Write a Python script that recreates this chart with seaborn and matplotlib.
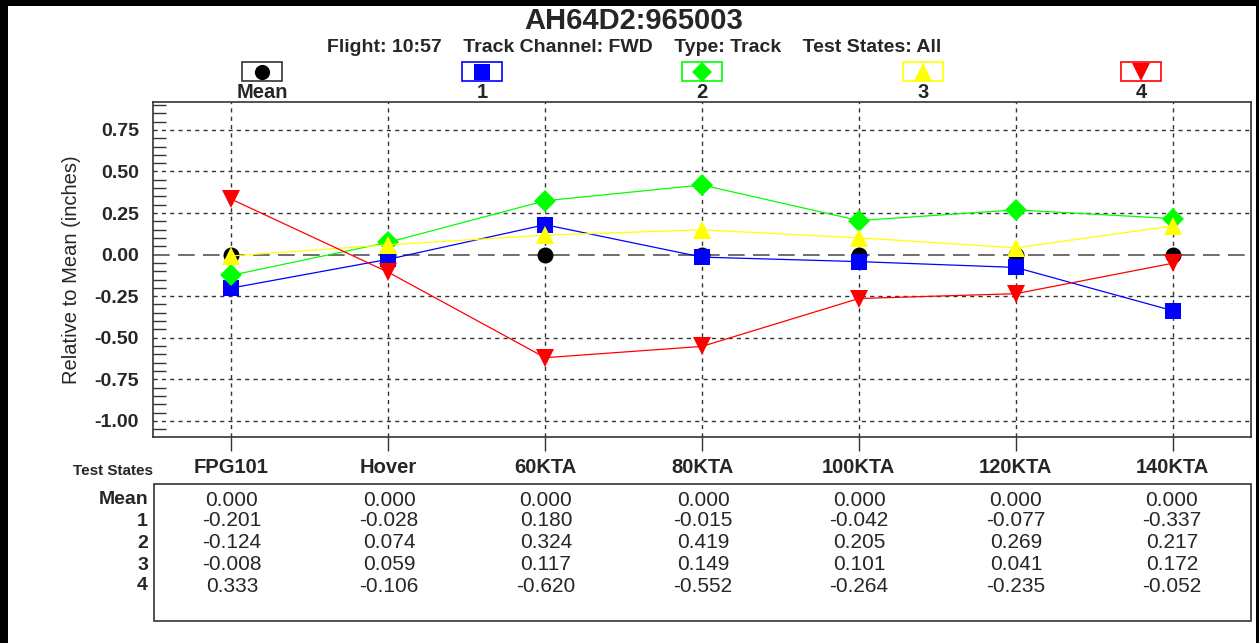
import numpy as np
import matplotlib
matplotlib.use('Agg')
import matplotlib.pyplot as plt
from matplotlib.patches import Rectangle
from matplotlib.lines import Line2D
from matplotlib.ticker import MultipleLocator, FormatStrFormatter
import seaborn as sns

# data
categories = ['FPG101', 'Hover', '60KTA', '80KTA', '100KTA', '120KTA', '140KTA']
series_names = ['Mean', '1', '2', '3', '4']
mean_vals = [0.000, 0.000, 0.000, 0.000, 0.000, 0.000, 0.000]
blade1 = [-0.201, -0.028, 0.180, -0.015, -0.042, -0.077, -0.337]
blade2 = [-0.124, 0.074, 0.324, 0.419, 0.205, 0.269, 0.217]
blade3 = [-0.008, 0.059, 0.117, 0.149, 0.101, 0.041, 0.172]
blade4 = [0.333, -0.106, -0.620, -0.552, -0.264, -0.235, -0.052]
all_vals = [mean_vals, blade1, blade2, blade3, blade4]

colors = ['#000000', '#0000FF', '#00FF00', '#FFFF00', '#FF0000']
markers = ['o', 's', 'D', '^', 'v']
msizes = [11.5, 11.5, 11, 13, 13]

sns.set_theme(style='white')
plt.rcParams['font.family'] = ['Liberation Sans', 'DejaVu Sans']

W, H = 1259, 643
fig = plt.figure(figsize=(W / 100, H / 100), dpi=100)

def fx(px):
    return px / W

def fy(py):
    return 1 - py / H

ax = fig.add_axes([fx(153), fy(437), fx(1251) - fx(153), fy(102) - fy(437)])

xpos = np.arange(len(categories))

# zero line + grid
ax.axhline(0, color='#555555', lw=1.2, dashes=(10, 5), zorder=1)
for y in [-1.0, -0.75, -0.5, -0.25, 0.25, 0.5, 0.75]:
    ax.axhline(y, color='#333333', lw=1, dashes=(3, 3), zorder=1)
for x in xpos:
    ax.axvline(x, color='#333333', lw=1, dashes=(3, 3), zorder=1)

for name, vals, c, m, s in zip(series_names, all_vals, colors, markers, msizes):
    sns.lineplot(x=xpos, y=vals, ax=ax, color=c, marker=m, markersize=s,
                 markeredgewidth=0, linewidth=0.9 if name != 'Mean' else 0,
                 zorder=3, legend=False)

ax.set_xlim(-0.5, len(categories) - 0.5)
ax.set_ylim(-1.097, 0.918)
ax.set_xticks(xpos)
ax.set_xticklabels(categories, fontsize=14.5, fontweight='bold')
ax.yaxis.set_major_locator(MultipleLocator(0.25))
ax.yaxis.set_minor_locator(MultipleLocator(0.05))
ax.yaxis.set_major_formatter(FormatStrFormatter('%.2f'))
for lab in ax.get_yticklabels():
    lab.set_fontweight('bold')
ax.tick_params(axis='y', which='major', direction='inout', length=18, width=1,
               labelsize=14, pad=1, color='#333333')
ax.tick_params(axis='y', which='minor', direction='in', length=9, width=1,
               color='#333333', left=True)
ax.tick_params(axis='x', which='major', direction='out', length=10, width=1,
               pad=5, color='#333333', bottom=True)
ax.set_xlabel('')
ax.set_ylabel('Relative to Mean (inches)', fontsize=14.5)
ax.yaxis.set_label_coords(-0.066, 0.5)
for sp in ax.spines.values():
    sp.set_color('#333333')
    sp.set_linewidth(1.2)

# titles
fig.text(fx(634), fy(21), 'AH64D2:965003', ha='center', va='center',
         fontsize=21, fontweight='bold')
fig.text(fx(634), fy(48),
         'Flight: 10:57    Track Channel: FWD    Type: Track    Test States: All',
         ha='center', va='center', fontsize=14, fontweight='bold')

# legend boxes
leg_x = [262, 482, 702, 923, 1141]
for name, c, m, s, lx in zip(series_names, colors, markers, msizes, leg_x):
    ec = '#333333' if name == 'Mean' else c
    fig.patches.append(Rectangle((fx(lx - 20), fy(81)), fx(40), fy(62) - fy(81),
                                 transform=fig.transFigure, fill=False,
                                 edgecolor=ec, lw=1.2))
    fig.lines.append(Line2D([fx(lx)], [fy(72)], transform=fig.transFigure,
                            marker=m, color=c, markersize=s * 0.95,
                            markeredgewidth=0, linestyle='none'))
    fig.text(fx(lx), fy(92), name, ha='center', va='center',
             fontsize=14.5, fontweight='bold')

# data table
fig.patches.append(Rectangle((fx(154), fy(621)), fx(1251) - fx(154), fy(484) - fy(621),
                             transform=fig.transFigure, fill=False,
                             edgecolor='#333333', lw=1.2))
fig.text(fx(153), fy(471), 'Test States', ha='right', va='center',
         fontsize=11, fontweight='bold')
row_y = [500, 521, 543, 565, 586]
cat_px = [232, 389, 546, 703, 859, 1016, 1172]
for name, vals, ry in zip(series_names, all_vals, row_y):
    fig.text(fx(148), fy(ry), name, ha='right', va='center',
             fontsize=14, fontweight='bold')
    for cx, v in zip(cat_px, vals):
        fig.text(fx(cx), fy(ry), f'{v:.3f}', ha='center', va='center', fontsize=15)

# outer border
fig.patches.append(Rectangle((0, 0), fx(8), 1, transform=fig.transFigure,
                             color='black', lw=0))
fig.patches.append(Rectangle((0, fy(6)), 1, 1 - fy(6), transform=fig.transFigure,
                             color='black', lw=0))
fig.patches.append(Rectangle((fx(1256), 0), fx(3), 1, transform=fig.transFigure,
                             color='black', lw=0))

fig.savefig('out.png', dpi=100, facecolor='white')
